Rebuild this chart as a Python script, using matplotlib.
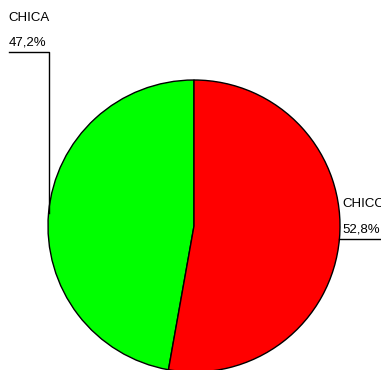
import numpy as np
import matplotlib
matplotlib.use("Agg")
import matplotlib.pyplot as plt

# share of each group
labels = ["CHICA", "CHICO"]
shares = [47.2, 52.8]
colors = ["#00ff00", "#ff0000"]

W, H = 381, 370
fig = plt.figure(figsize=(W / 100, H / 100), dpi=100)
ax = fig.add_axes([0, 0, 1, 1])

cx, cy, r = 194, H - 226, 146

wedges, _ = ax.pie(shares, colors=colors, startangle=90, counterclock=True,
                   center=(cx, cy), radius=r, frame=True,
                   wedgeprops=dict(edgecolor="black", linewidth=1.0))
ax.set_xlim(0, W)
ax.set_ylim(0, H)
ax.set_aspect("equal")
ax.axis("off")

font = dict(family="Liberation Sans", fontsize=9.5, color="black")

# leader lines from the middle of each slice to its label
for w, lab, v in zip(wedges, labels, shares):
    mid = np.radians((w.theta1 + w.theta2) / 2)
    ax_, ay_ = cx + r * np.cos(mid), cy + r * np.sin(mid)
    pct = f"{v:.1f}%".replace(".", ",")
    if np.cos(mid) < 0:
        ly = H - 52
        ax.plot([ax_, ax_, 9], [ay_, ly, ly], color="black", lw=1.0, zorder=3)
        ax.text(8.5, ly + 6.5, pct, ha="left", va="baseline", **font)
        ax.text(8.5, ly + 31, lab, ha="left", va="baseline", **font)
    else:
        ax.plot([ax_, W + 5], [ay_, ay_], color="black", lw=1.0, zorder=3, clip_on=False)
        ax.text(ax_ + 3, ay_ + 6.5, pct, ha="left", va="baseline", **font)
        ax.text(ax_ + 3, ay_ + 32, lab, ha="left", va="baseline", **font)

fig.savefig("out.png", dpi=100)
